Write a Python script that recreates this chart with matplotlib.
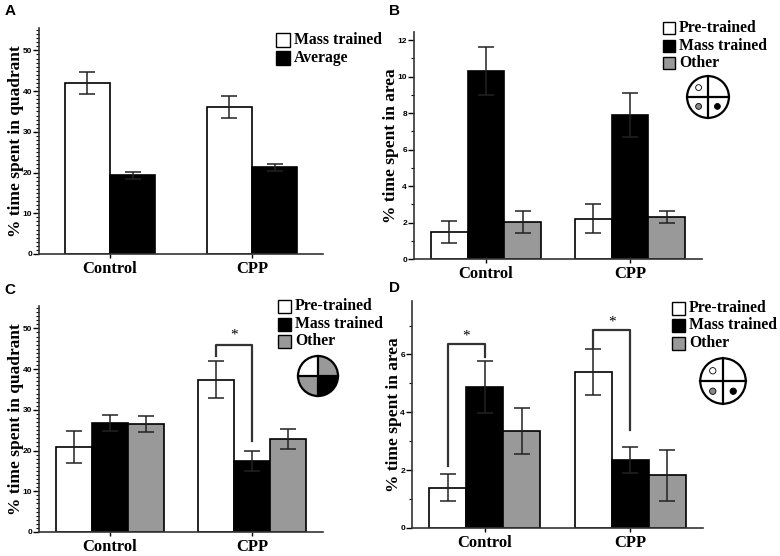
import matplotlib
matplotlib.use("Agg")
import matplotlib.pyplot as plt
import numpy as np
from matplotlib.patches import Wedge, Circle
from matplotlib.ticker import MultipleLocator

groups = ["Control", "CPP"]

# panel A: quadrant time, two series
a_labels = ["Mass trained", "Average"]
a_vals = [[42.0, 36.2], [19.3, 21.3]]
a_errs = [[2.8, 2.7], [0.9, 0.8]]

# panel B: area time, three series
b_labels = ["Pre-trained", "Mass trained", "Other"]
b_vals = [[1.5, 2.2], [10.3, 7.9], [2.05, 2.3]]
b_errs = [[0.6, 0.8], [1.3, 1.2], [0.6, 0.35]]

# panel C: quadrant time, three series
c_labels = ["Pre-trained", "Mass trained", "Other"]
c_vals = [[20.8, 37.4], [26.7, 17.4], [26.5, 22.8]]
c_errs = [[3.9, 4.5], [2.0, 2.4], [1.9, 2.5]]

# panel D: area time, three series
d_labels = ["Pre-trained", "Mass trained", "Other"]
d_vals = [[1.4, 5.4], [4.87, 2.35], [3.35, 1.82]]
d_errs = [[0.47, 0.8], [0.9, 0.45], [0.8, 0.87]]

colors2 = ["white", "black"]
colors3 = ["white", "black", "#999999"]

serif = ["Liberation Serif", "DejaVu Serif"]
tickfont = ["Liberation Sans Narrow", "Liberation Sans", "DejaVu Sans"]

W, H = 780, 556
fig = plt.figure(figsize=(W / 100, H / 100), dpi=100)


def px_axes(l, t, r, b):
    return fig.add_axes([l / W, 1 - b / H, (r - l) / W, (b - t) / H])


def bars(ax, vals, errs, colors, width, centers):
    n = len(vals)
    xs_all = []
    for i in range(n):
        xs = [c + (i - (n - 1) / 2) * width for c in centers]
        ax.bar(xs, vals[i], width, color=colors[i], edgecolor="black",
               linewidth=1.2, zorder=2)
        ax.errorbar(xs, vals[i], yerr=errs[i], fmt="none", ecolor="#222222",
                    elinewidth=1.1, capsize=5.5, capthick=1.1, zorder=3)
        xs_all.append(xs)
    return xs_all


def style(ax, ylabel, ymax, major, minor):
    ax.set_xlim(-0.5, 1.5)
    ax.set_ylim(0, ymax)
    ax.spines["top"].set_visible(False)
    ax.spines["right"].set_visible(False)
    for s in ["left", "bottom"]:
        ax.spines[s].set_linewidth(1.2)
        ax.spines[s].set_color("#333333")
    ax.yaxis.set_major_locator(MultipleLocator(major))
    ax.yaxis.set_minor_locator(MultipleLocator(minor))
    ax.tick_params(axis="y", which="major", length=4, width=1, labelsize=6, pad=1)
    ax.tick_params(axis="y", which="minor", length=2, width=0.8)
    ax.tick_params(axis="x", length=3, width=1, pad=2)
    for t in ax.get_yticklabels():
        t.set_family(tickfont)
        t.set_fontweight("bold")
    ax.set_xticks([0, 1])
    ax.set_xticklabels(groups, fontsize=12, fontweight="bold", family=serif)
    ax.set_ylabel(ylabel, fontsize=12.5, fontweight="bold", family=serif, labelpad=-1)


def legend(x, ys, colors, labels, bw=13, bh=13):
    for y, c, lab in zip(ys, colors, labels):
        fig.patches.append(plt.Rectangle((x / W, 1 - (y + bh / 2) / H), bw / W, bh / H,
                                         transform=fig.transFigure, facecolor=c,
                                         edgecolor="black", linewidth=1.0))
        fig.text((x + bw + 4) / W, 1 - y / H, lab, fontsize=11.3, fontweight="bold",
                 family=serif, va="center", ha="left")


def bracket(ax, x1, x2, y1, y2, top, star_y):
    ax.plot([x1, x1, x2, x2], [y1, top, top, y2], color="#333333", lw=1.6, zorder=4)
    ax.text((x1 + x2) / 2, star_y, "*", ha="center", va="center", fontsize=11,
            family=serif)


def icon(cx, cy, r, kind):
    iax = fig.add_axes([(cx - r - 2) / W, 1 - (cy + r + 2) / H, (2 * r + 4) / W, (2 * r + 4) / H])
    iax.set_xlim(-1.1, 1.1)
    iax.set_ylim(-1.1, 1.1)
    iax.set_aspect("equal")
    iax.axis("off")
    if kind == "pie":
        cols = {90: "white", 0: "#999999", 180: "#999999", 270: "black"}
        for start, c in cols.items():
            iax.add_patch(Wedge((0, 0), 1, start, start + 90, facecolor=c, edgecolor="none"))
    iax.add_patch(Circle((0, 0), 1, facecolor="none", edgecolor="black", lw=1.6))
    iax.plot([-1, 1], [0, 0], color="black", lw=1.6)
    iax.plot([0, 0], [-1, 1], color="black", lw=1.6)
    if kind == "dots":
        for (x, y), c in zip([(-0.45, 0.45), (-0.45, -0.45), (0.45, -0.45)],
                             ["white", "#888888", "black"]):
            iax.add_patch(Circle((x, y), 0.14, facecolor=c, edgecolor="black", lw=0.6))


# ---- A ----
axA = px_axes(39, 28, 323, 254)
bars(axA, a_vals, a_errs, colors2, 0.32, [0, 1])
style(axA, "% time spent in quadrant", 55.5, 10, 1)
legend(276, [40, 58], colors2, a_labels, bw=14, bh=14)

# ---- B ----
axB = px_axes(414, 32, 702, 259)
bars(axB, b_vals, b_errs, colors3, 0.255, [0, 1])
style(axB, "% time spent in area", 12.45, 2, 1)
legend(663, [28, 46, 63], colors3, b_labels, bw=12, bh=12)
icon(708, 97, 21, "dots")

# ---- C ----
axC = px_axes(39, 306, 323, 532)
xc = bars(axC, c_vals, c_errs, colors3, 0.255, [0, 1])
style(axC, "% time spent in quadrant", 55.5, 10, 1)
bracket(axC, xc[0][1], xc[1][1], 43.2, 22.4, 46.0, 48.4)
legend(278, [306, 324, 341], colors3, c_labels, bw=13, bh=13)
icon(318, 376, 20, "pie")

# ---- D ----
axD = px_axes(412, 301, 703, 528)
xd = bars(axD, d_vals, d_errs, colors3, 0.255, [0, 1])
style(axD, "% time spent in area", 7.85, 2, 1)
bracket(axD, xd[0][0], xd[1][0], 2.13, 5.9, 6.37, 6.65)
bracket(axD, xd[0][1], xd[1][1], 6.2, 3.4, 6.86, 7.12)
legend(672, [308, 325, 343], colors3, d_labels, bw=13, bh=13)
icon(723, 381, 23, "dots")

for lab, x, y in [("A", 10, 11), ("B", 394, 11), ("C", 10, 290), ("D", 394, 288)]:
    fig.text(x / W, 1 - y / H, lab, fontsize=11, fontweight="bold", ha="center",
             va="center", family=["Liberation Sans", "DejaVu Sans"])

fig.savefig("out.png", dpi=100, facecolor="white")
